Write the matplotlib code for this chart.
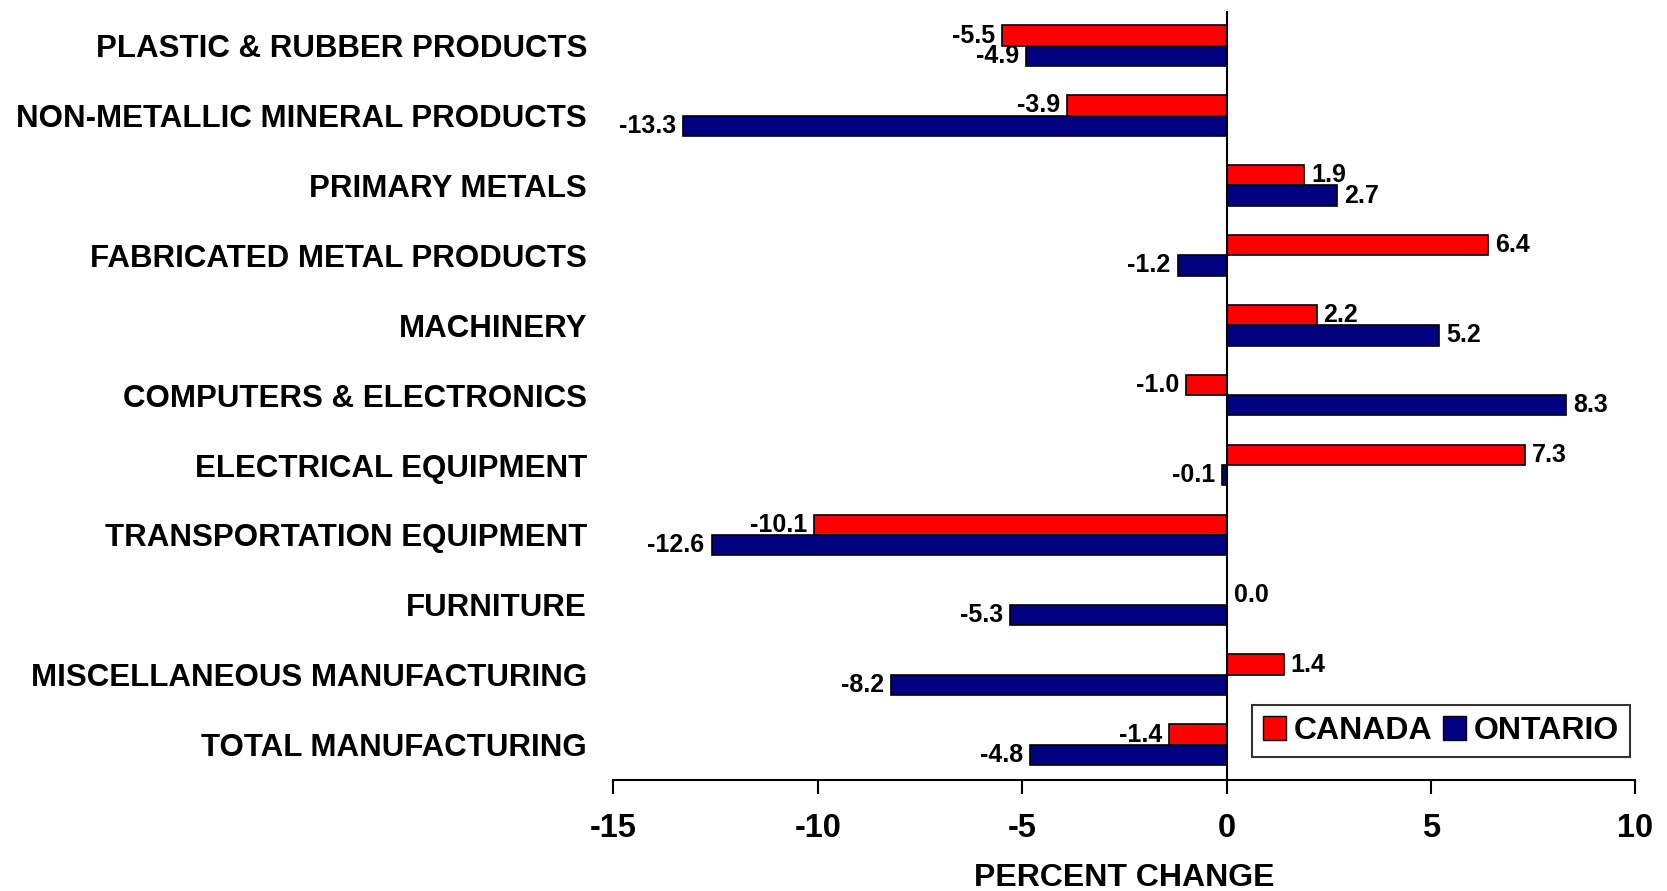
import matplotlib
matplotlib.use("Agg")
import matplotlib.pyplot as plt
import numpy as np
from matplotlib.patches import Patch

categories = ["PLASTIC & RUBBER PRODUCTS", "NON-METALLIC MINERAL PRODUCTS", "PRIMARY METALS",
              "FABRICATED METAL PRODUCTS", "MACHINERY", "COMPUTERS & ELECTRONICS",
              "ELECTRICAL EQUIPMENT", "TRANSPORTATION EQUIPMENT", "FURNITURE",
              "MISCELLANEOUS MANUFACTURING", "TOTAL MANUFACTURING"]
canada = [-5.5, -3.9, 1.9, 6.4, 2.2, -1.0, 7.3, -10.1, 0.0, 1.4, -1.4]
ontario = [-4.9, -13.3, 2.7, -1.2, 5.2, 8.3, -0.1, -12.6, -5.3, -8.2, -4.8]
xticks = [-15, -10, -5, 0, 5, 10]

plt.rcParams['font.family'] = ['Liberation Sans', 'DejaVu Sans']
plt.rcParams['font.weight'] = 'bold'

fig = plt.figure(figsize=(16.67, 8.91), dpi=100)
ax = fig.add_axes([0.368, 0.125, 0.613, 0.863])

y = np.arange(len(categories))
h = 0.29
red = '#FF0000'
navy = '#000080'
ax.barh(y - h / 2, canada, height=h, color=red, edgecolor='black', linewidth=1.2, zorder=2)
ax.barh(y + h / 2, ontario, height=h, color=navy, edgecolor='black', linewidth=1.2, zorder=2)

def label(vals, ys):
    for yi, v in zip(ys, vals):
        if v >= 0:
            ax.annotate(f"{v:.1f}", (v, yi), xytext=(5, 0), textcoords='offset points',
                        ha='left', va='center', fontsize=18, fontweight='bold')
        else:
            ax.annotate(f"{v:.1f}", (v, yi), xytext=(-5, 0), textcoords='offset points',
                        ha='right', va='center', fontsize=18, fontweight='bold')

label(canada, y - h / 2)
label(ontario, y + h / 2)

ax.set_xlim(-15, 10)
ax.set_ylim(len(categories) - 0.5, -0.5)
ax.set_xticks(xticks)
ax.set_xticklabels([str(t) for t in xticks], fontsize=23.5, fontweight='bold')
ax.set_yticks(y)
ax.set_yticklabels(categories, fontsize=22.5, fontweight='bold')
ax.tick_params(axis='y', length=0, pad=19)
ax.tick_params(axis='x', direction='out', length=10, width=1.5, pad=14)

for s in ['top', 'right', 'left']:
    ax.spines[s].set_visible(False)
ax.spines['bottom'].set_linewidth(1.5)
ax.axvline(0, color='black', linewidth=1.5, zorder=3)

ax.set_xlabel("PERCENT CHANGE", fontsize=23, fontweight='bold', labelpad=14)

handles = [Patch(facecolor=red, edgecolor='black', label='CANADA'),
           Patch(facecolor=navy, edgecolor='black', label='ONTARIO')]
leg = ax.legend(handles=handles, loc='lower right', bbox_to_anchor=(0.995, 0.029), ncol=2,
                prop={'size': 23, 'weight': 'bold'}, frameon=True, fancybox=False,
                edgecolor='black', handlelength=0.7, handleheight=0.8, handletextpad=0.25,
                columnspacing=0.35, borderpad=0.35, borderaxespad=0)
leg.get_frame().set_linewidth(1.5)

fig.savefig("out.png", dpi=100, facecolor='white')
